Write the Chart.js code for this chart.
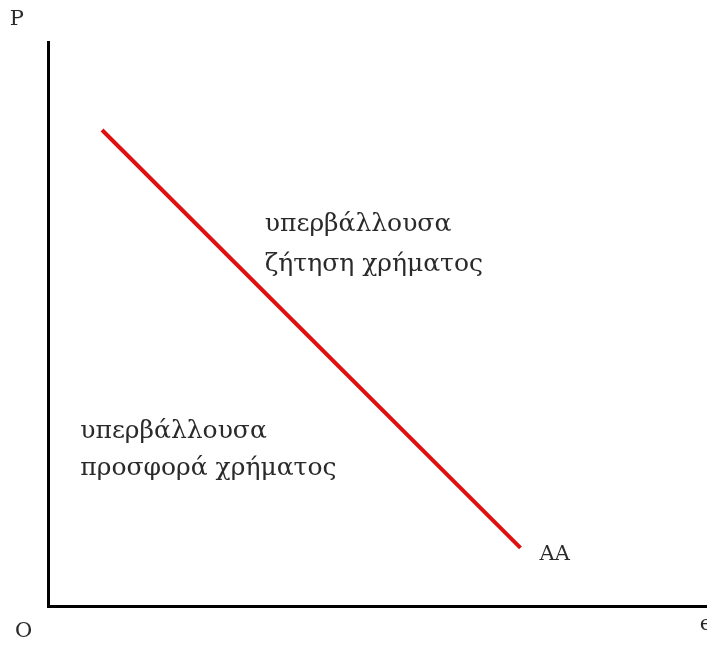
<!DOCTYPE html>
<html>
<head>
<meta charset="utf-8">
<script src="https://cdn.jsdelivr.net/npm/chart.js@4.4.0/dist/chart.umd.min.js"></script>
<style>
html,body{margin:0;padding:0;background:#fff;}
#wrap{width:707px;height:646px;position:relative;}
</style>
</head>
<body>
<div id="wrap"><canvas id="c"></canvas></div>
<script>
// Curve AA (x = e, y = P), axis range 0..100
const curveX = [8.2, 71.7];
const curveY = [84.4, 10.3];
// Text labels and their data positions
const labelTexts = ["υπερβάλλουσα", "ζήτηση χρήματος", "υπερβάλλουσα", "προσφορά χρήματος", "AA", "P", "O", "e"];
const labelX = [32.9, 32.9, 4.9, 4.9, 74.6, -5.8, -5.0, 98.9];
const labelY = [67.7, 60.5, 30.9, 24.4, 9.2, 104.0, -4.6, -3.2];

const points = curveX.map((x, i) => ({x: x, y: curveY[i]}));

const textPlugin = {
  id: 'texts',
  afterDraw(chart) {
    const ctx = chart.ctx;
    const xs = chart.scales.x, ys = chart.scales.y;
    ctx.save();
    ctx.fillStyle = '#2a2a2a';
    ctx.textAlign = 'left';
    ctx.textBaseline = 'middle';
    labelTexts.forEach((t, i) => {
      ctx.font = (i < 4 ? '25px' : '21px') + ' "DejaVu Serif", serif';
      ctx.fillText(t, xs.getPixelForValue(labelX[i]), ys.getPixelForValue(labelY[i]));
    });
    ctx.restore();
  }
};

new Chart(document.getElementById('c'), {
  type: 'scatter',
  data: {
    datasets: [{
      data: points,
      showLine: true,
      borderColor: '#e01010',
      borderWidth: 4,
      pointRadius: 0,
      fill: false
    }]
  },
  options: {
    responsive: true,
    maintainAspectRatio: false,
    animation: false,
    layout: {padding: {left: 48, right: 0, top: 42, bottom: 40}},
    plugins: {legend: {display: false}, tooltip: {enabled: false}},
    scales: {
      x: {
        type: 'linear', min: 0, max: 100,
        grid: {display: false, drawTicks: false},
        border: {display: true, color: '#000', width: 3},
        ticks: {display: false}
      },
      y: {
        type: 'linear', min: 0, max: 100,
        grid: {display: false, drawTicks: false},
        border: {display: true, color: '#000', width: 3},
        ticks: {display: false}
      }
    }
  },
  plugins: [textPlugin]
});
</script>
</body>
</html>
